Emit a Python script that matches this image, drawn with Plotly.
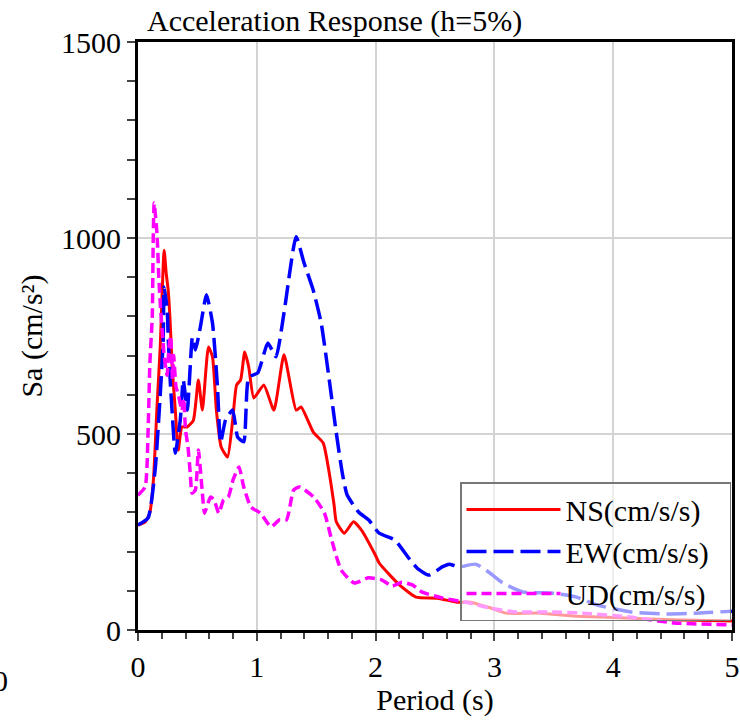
import plotly.graph_objects as go

# Period (s) and Sa (cm/s^2)
ns_t = [0.00, 0.06, 0.10, 0.13, 0.16, 0.187, 0.22, 0.237, 0.254, 0.27, 0.288, 0.314, 0.339, 0.37, 0.415,
        0.466, 0.508, 0.542, 0.593, 0.627, 0.66, 0.70, 0.754, 0.797, 0.83, 0.864, 0.898, 0.932, 0.975,
        1.059, 1.144, 1.229, 1.331, 1.373, 1.475, 1.559, 1.61, 1.65, 1.669, 1.737, 1.814, 1.881, 2.0,
        2.03, 2.20, 2.34, 2.52, 2.68, 2.80, 2.97, 3.10, 3.39, 3.66, 4.0, 4.5, 5.0]
ns_sa = [268, 275, 300, 383, 569, 722, 969, 911, 867, 790, 670, 561, 459, 518, 518,
         535, 638, 561, 722, 697, 560, 467, 441, 536, 625, 638, 709, 671, 592,
         625, 561, 702, 561, 569, 505, 477, 400, 320, 276, 247, 276, 255, 190,
         171, 115, 84, 81, 71, 71, 56, 43, 43, 36, 32, 26, 23]

ew_t = [0.00, 0.085, 0.144, 0.186, 0.212, 0.22, 0.246, 0.254, 0.271, 0.288, 0.314, 0.356, 0.381, 0.415,
        0.458, 0.483, 0.525, 0.576, 0.627, 0.669, 0.695, 0.737, 0.797, 0.839, 0.89, 0.932, 1.008,
        1.093, 1.161, 1.229, 1.331, 1.398, 1.475, 1.542, 1.61, 1.669, 1.72, 1.76, 1.856, 1.941, 2.03,
        2.16, 2.29, 2.36, 2.45, 2.56, 2.62, 2.70, 2.84, 2.93, 3.07, 3.24, 3.49, 3.69, 3.86, 4.15,
        4.43, 4.71, 5.0]
ew_sa = [268, 286, 408, 594, 740, 875, 816, 747, 638, 553, 451, 536, 638, 561,
         747, 714, 773, 855, 783, 620, 478, 536, 561, 492, 480, 645, 656,
         732, 697, 809, 1003, 936, 867, 783, 638, 503, 400, 345, 301, 281, 247,
         230, 179, 155, 140, 161, 168, 161, 168, 153, 120, 97, 94, 84, 64, 46,
         41, 43, 48]

ud_t = [0.00, 0.06, 0.085, 0.10, 0.12, 0.128, 0.136, 0.16, 0.175, 0.19, 0.205, 0.22, 0.245, 0.26,
        0.275, 0.29, 0.30, 0.32, 0.34, 0.37, 0.385, 0.40, 0.42, 0.44, 0.455, 0.483, 0.508, 0.542,
        0.56, 0.61, 0.64, 0.68, 0.72, 0.76, 0.80, 0.85, 0.89, 0.95, 1.03, 1.12, 1.19, 1.25, 1.31,
        1.36, 1.48, 1.57, 1.63, 1.71, 1.82, 1.94, 2.05, 2.14, 2.22, 2.31, 2.39, 2.56, 2.79, 2.96,
        3.18, 3.46, 3.75, 4.14, 4.51, 5.0]
ud_sa = [344, 365, 510, 681, 800, 995, 1089, 1010, 900, 820, 760, 700, 650, 720,
         750, 640, 700, 620, 600, 560, 590, 510, 470, 400, 349, 357, 459, 349,
         298, 339, 332, 298, 332, 339, 383, 416, 365, 314, 298, 263, 281, 281, 357,
         365, 339, 298, 230, 153, 120, 133, 128, 112, 122, 115, 97, 82, 69, 56,
         46, 46, 43, 33, 18, 13]

FONT = "Liberation Serif"
PAD = "\u00a0\u00a0"

fig = go.Figure()
fig.add_trace(go.Scatter(x=ns_t, y=ns_sa, mode="lines", name="NS(cm/s/s)" + PAD,
                         line=dict(color="#ff0000", width=3, shape="spline", smoothing=0.5)))
fig.add_trace(go.Scatter(x=ew_t, y=ew_sa, mode="lines", name="EW(cm/s/s)" + PAD,
                         line=dict(color="#0000ff", width=3.5, dash="20px,7px", shape="spline", smoothing=0.5)))
fig.add_trace(go.Scatter(x=ud_t, y=ud_sa, mode="lines", name="UD(cm/s/s)" + PAD,
                         line=dict(color="#ff00ff", width=3.5, dash="10px,5px", shape="spline", smoothing=0.5)))

axis_common = dict(
    showline=True, linecolor="black", linewidth=3, mirror=True,
    ticks="outside", ticklen=8, tickwidth=1.5, tickcolor="#444",
    showgrid=True, gridcolor="#d3d3d3", gridwidth=1.5,
    zeroline=False, automargin=False,
    tickfont=dict(family=FONT, size=30, color="black"),
)

fig.update_layout(
    width=740, height=721,
    margin=dict(l=138, r=8, t=42, b=91),
    paper_bgcolor="white", plot_bgcolor="white",
    font=dict(family=FONT, size=30, color="black"),
    title=dict(text="Acceleration Response (h=5%)", x=147/740, xref="container", xanchor="left",
               y=1 - 20/721, yref="container", yanchor="middle",
               font=dict(family=FONT, size=30, color="black")),
    xaxis=dict(range=[0, 5], dtick=1, tick0=0,
               title=dict(text="Period (s)", font=dict(family=FONT, size=30), standoff=4),
               minor=dict(dtick=0.2, ticks="outside", ticklen=6, tickcolor="#444", showgrid=False),
               **axis_common),
    yaxis=dict(range=[0, 1500], dtick=500, tick0=0,
               title=dict(text="Sa (cm/s²)", font=dict(family=FONT, size=30), standoff=10),
               minor=dict(dtick=100, ticks="outside", ticklen=8, tickcolor="#444", showgrid=False),
               **axis_common),
    legend=dict(x=(460-138)/594, y=(630-482)/588, xanchor="left", yanchor="top",
                bgcolor="rgba(255,255,255,0.6)", bordercolor="#777", borderwidth=1.5,
                font=dict(family=FONT, size=30, color="black"), itemwidth=94,
                tracegroupgap=0),
    showlegend=True,
)

fig.add_annotation(text="0", xref="paper", yref="paper", x=-138/594, y=(630-680)/588,
                   xanchor="center", yanchor="middle", showarrow=False,
                   font=dict(family=FONT, size=30, color="black"))

fig.write_html("out.html")
